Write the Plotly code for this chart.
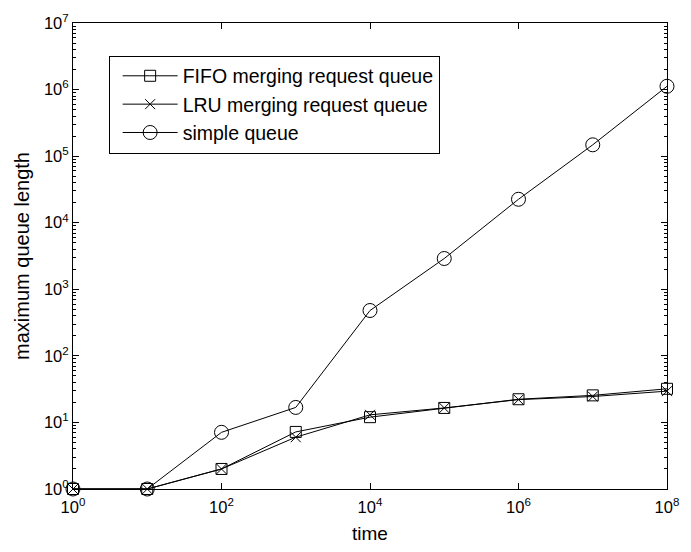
import plotly.graph_objects as go

time = [1e0, 1e1, 1e2, 1e3, 1e4, 1e5, 1e6, 1e7, 1e8]
fifo = [1, 1, 2.0, 7.2, 12, 16.5, 22.3, 25.5, 32]
lru = [1, 1, 2.0, 6.0, 13, 16.5, 22.0, 24.5, 29.5]
simple = [1, 1, 7.1, 16.8, 480, 2900, 22500, 148000, 1.12e6]

x_tickvals = [1e0, 1e2, 1e4, 1e6, 1e8]
x_ticktext = ["10<sup>0</sup>", "10<sup>2</sup>", "10<sup>4</sup>", "10<sup>6</sup>", "10<sup>8</sup>"]
y_tickvals = [1e0, 1e1, 1e2, 1e3, 1e4, 1e5, 1e6, 1e7]
y_ticktext = ["10<sup>%d</sup>" % i for i in range(8)]

FONT = "Liberation Sans, Arial, Helvetica, sans-serif"

fig = go.Figure()
fig.add_trace(go.Scatter(
    x=time, y=fifo, mode="lines+markers", name="FIFO merging request queue",
    line=dict(color="black", width=1),
    marker=dict(symbol="square-open", size=11, color="black", line=dict(width=1)),
    cliponaxis=False,
))
fig.add_trace(go.Scatter(
    x=time, y=lru, mode="lines+markers", name="LRU merging request queue",
    line=dict(color="black", width=1),
    marker=dict(symbol="x-thin-open", size=10, color="black", line=dict(width=1, color="black")),
    cliponaxis=False,
))
fig.add_trace(go.Scatter(
    x=time, y=simple, mode="lines+markers", name="simple queue",
    line=dict(color="black", width=1),
    marker=dict(symbol="circle-open", size=14, color="black", line=dict(width=1)),
    cliponaxis=False,
))

fig.update_layout(
    width=691, height=552,
    margin=dict(l=73, r=14, t=17, b=62),
    paper_bgcolor="white", plot_bgcolor="white",
    font=dict(family=FONT, color="black", size=16),
    showlegend=True,
    legend=dict(
        x=0.06, y=0.93, xanchor="left", yanchor="top",
        bordercolor="black", borderwidth=1, bgcolor="white",
        font=dict(size=19.5, family=FONT), itemwidth=55, indentation=8,
    ),
    xaxis=dict(
        type="log", range=[0, 8],
        tickvals=x_tickvals, ticktext=x_ticktext,
        ticks="inside", ticklen=6, tickcolor="black",
        showline=True, linecolor="black", linewidth=1, mirror="ticks",
        showgrid=False, zeroline=False,
        tickfont=dict(size=16.5), ticklabelstandoff=3,
        title=dict(text="time", font=dict(size=19), standoff=11),
    ),
    yaxis=dict(
        type="log", range=[0, 7],
        tickvals=y_tickvals, ticktext=y_ticktext,
        ticks="inside", ticklen=6, tickcolor="black",
        showline=True, linecolor="black", linewidth=1, mirror="ticks",
        showgrid=False, zeroline=False,
        tickfont=dict(size=16.5),
        minor=dict(ticks="inside", ticklen=3, tickcolor="black", showgrid=False, dtick="D1"),
        title=dict(text="maximum queue length", font=dict(size=20), standoff=8),
    ),
)

fig.write_html("out.html")
